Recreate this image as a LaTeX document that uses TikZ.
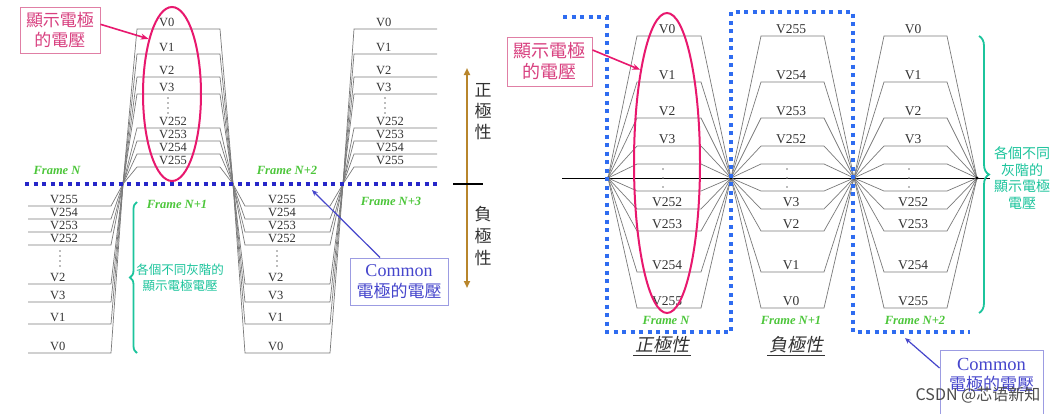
\documentclass[tikz,border=0pt]{standalone}
\usepackage{fontspec}
\setmainfont{Liberation Serif}
\newfontfamily\cjk{Noto Sans CJK TC}
\newfontfamily\cjksl[FakeSlant=0.2]{Noto Sans CJK TC}
\newfontfamily\cjksc{Noto Sans CJK SC}
\usetikzlibrary{shapes.geometric,decorations.pathreplacing,arrows.meta}
\definecolor{wavec}{HTML}{7A7A7A}
\definecolor{pinkc}{HTML}{E8186E}
\definecolor{pinkbox}{HTML}{E07FA5}
\definecolor{pinktext}{HTML}{D8407F}
\definecolor{darkblue}{HTML}{2626C8}
\definecolor{brightblue}{HTML}{2F6CF0}
\definecolor{tealc}{HTML}{1CC49C}
\definecolor{greenf}{HTML}{4CC63A}
\definecolor{commontext}{HTML}{4646CC}
\definecolor{commonbox}{HTML}{9C9CE2}
\definecolor{brownc}{HTML}{B8862C}
\definecolor{lblc}{HTML}{333333}
\tikzset{
  wavel/.style={draw=wavec, line width=0.7pt},
  lbls/.style={font=\fontsize{12.5}{14}\selectfont, inner sep=0pt, text=lblc},
  lblr/.style={font=\fontsize{13.5}{15}\selectfont, inner sep=0pt, text=lblc, anchor=base},
  framel/.style={text=greenf, font=\bfseries\itshape\fontsize{12.5}{14}\selectfont, inner sep=0pt},
  dotl/.style={line width=4pt, dash pattern=on 4pt off 4.5pt},
  pinkell/.style={draw=pinkc, line width=2pt, ellipse, inner sep=0pt},
  pinkbx/.style={draw=pinkbox, line width=1pt, align=center, text=pinktext, inner sep=0pt},
  pinkarrow/.style={draw=pinkc, line width=1.6pt, -{Stealth[length=8pt,width=6pt]}},
  commonbx/.style={draw=commonbox, line width=1pt, align=center, text=commontext, inner sep=0pt},
  commonarrow/.style={draw=commontext, line width=1.2pt, -{Stealth[length=6pt,width=5pt]}},
  brace/.style={draw=tealc, line width=1.8pt, decorate},
  tealtext/.style={text=tealc, align=center, inner sep=0pt},
  vdot/.style={fill=wavec, draw=none},
}
\begin{document}
\begin{tikzpicture}[x=1pt,y=-1pt]
\useasboundingbox (0,0) rectangle (1061,413);
\fill[white] (0,0) rectangle (1061,413);

% ===================== LEFT PANEL =====================
\foreach \y/\t in {29/V0,54/V1,77/V2,94/V3,128/V252,141/V253,154/V254,167/V255}{
  \draw[wavel] (123,184) -- (137,\y) -- (220,\y) -- (233,184);
  \draw[wavel] (343,184) -- (354,\y) -- (437,\y);
  \node[lbls, anchor=base west] (la\t) at (159,\y-2.5) {\t};
  \node[lbls, anchor=base west] (lb\t) at (376,\y-2.5) {\t};
}
\foreach \y/\t in {206/V255,219/V254,232/V253,245/V252,284/V2,302/V3,324/V1,353/V0}{
  \draw[wavel] (28,\y) -- (111,\y) -- (123,184);
  \draw[wavel] (233,184) -- (245,\y) -- (330,\y) -- (343,184);
  \node[lbls, anchor=base west] (lc\t) at (50,\y-2.5) {\t};
  \node[lbls, anchor=base west] (ld\t) at (268,\y-2.5) {\t};
}
\foreach \yy in {98,103,108,113}{
  \fill[vdot] (168,\yy) circle (0.9);
  \fill[vdot] (385,\yy) circle (0.9);
}
\foreach \yy in {251,256,261,266}{
  \fill[vdot] (60,\yy) circle (0.9);
  \fill[vdot] (277,\yy) circle (0.9);
}
\draw[dotl, darkblue] (25,184) -- (437,184);

\node[framel] (fl1) at (57,170) {Frame N};
\node[framel] (fl2) at (177,204) {Frame N+1};
\node[framel] (fl3) at (287,170) {Frame N+2};
\node[framel] (fl4) at (391,201) {Frame N+3};

\node[pinkell, minimum width=58pt, minimum height=174pt] (el1) at (172,94) {};
\node[pinkbx, minimum width=80pt, minimum height=46pt, font=\cjk\fontsize{17}{20}\selectfont] (pb1) at (60,30) {顯示電極\\的電壓};
\draw[pinkarrow] (pb1.8) -- (el1.113);

\draw[brace, decoration={brace, amplitude=7pt}] (137,353) -- (137,202);
\node[tealtext, font=\cjk\fontsize{12.5}{16}\selectfont] (tt1) at (180,278) {各個不同灰階的\\顯示電極電壓};

\draw[brownc, line width=2pt, {Triangle[length=7pt,width=6pt]}-{Triangle[length=7pt,width=6pt]}] (467,68) -- (467,288);
\draw[black, line width=1.8pt] (453,184) -- (483,184);
\node[align=center, text=lblc, inner sep=0pt, font=\cjk\fontsize{17}{21}\selectfont] (vp) at (483,112) {正\\極\\性};
\node[align=center, text=lblc, inner sep=0pt, font=\cjk\fontsize{17}{22}\selectfont] (vn) at (483,236) {負\\極\\性};

\node[commonbx, minimum width=98pt, minimum height=47pt, font=\fontsize{17}{21}\selectfont] (cb1) at (399,281.5) {{\fontsize{18}{21}\selectfont Common}\\{\cjk 電極的電壓}};
\coordinate (cp1) at (312,190);
\draw[commonarrow] ([xshift=-19pt]cb1.north) -- (cp1);

% ===================== RIGHT PANEL =====================
\draw[black, line width=0.6pt] (562,178) -- (990,178);
\foreach \y/\a/\b in {36/V0/V255, 82/V1/V254, 118/V2/V253, 146/V3/V252, 164//, 191//, 209/V252/V3, 231/V253/V2, 272/V254/V1, 308/V255/V0}{
  \draw[wavel] (608,178) -- (637,\y) -- (701,\y) -- (731,178);
  \draw[wavel] (731,178) -- (761,\y) -- (824,\y) -- (854,178);
  \draw[wavel] (854,178) -- (884,\y) -- (947,\y) -- (977,178);
  \node[lblr] (ra\y) at (667,\y-2.5) {\a};
  \node[lblr] (rb\y) at (791,\y-2.5) {\b};
  \node[lblr] (rc\y) at (913,\y-2.5) {\a};
}
\foreach \yy in {169,178,187}{
  \fill[vdot] (663,\yy) circle (0.9);
  \fill[vdot] (787,\yy) circle (0.9);
  \fill[vdot] (909,\yy) circle (0.9);
}
\foreach \xx in {608,731,854,977}{
  \fill[black] (\xx,178) circle (1.6);
}

\draw[dotl, brightblue] (563,17) -- (607,17) -- (607,332) -- (731,332) -- (731,12) -- (853,12) -- (853,332) -- (970,332);

\node[framel] (fr1) at (666,320) {Frame N};
\node[framel] (fr2) at (791,320) {Frame N+1};
\node[framel] (fr3) at (915,320) {Frame N+2};

\node[pinkell, minimum width=66pt, minimum height=300pt] (el2) at (667,163) {};
\node[pinkbx, minimum width=85pt, minimum height=49pt, font=\cjk\fontsize{18}{21}\selectfont] (pb2) at (549.5,61.5) {顯示電極\\的電壓};
\draw[pinkarrow] (pb2.15) -- (el2.106);

\draw[brace, decoration={brace, amplitude=10pt}] (979,36) -- (979,313);
\node[tealtext, font=\cjk\fontsize{14}{16.7}\selectfont] (tt2) at (1022,178) {各個不同\\灰階的\\顯示電極\\電壓};

\node[text=lblc, inner sep=1.5pt, font=\cjksl\fontsize{18}{20}\selectfont] (pol1) at (662,345) {正極性};
\draw[lblc, line width=0.8pt] (pol1.south west) -- (pol1.south east);
\node[text=lblc, inner sep=1.5pt, font=\cjksl\fontsize{18}{20}\selectfont] (pol2) at (796,345) {負極性};
\draw[lblc, line width=0.8pt] (pol2.south west) -- (pol2.south east);

\node[commonbx, minimum width=103pt, minimum height=75pt] (cb2) at (991.5,387.5) {};
\node[align=center, text=commontext, inner sep=0pt, font=\fontsize{17}{20}\selectfont] (ct2) at (991.5,375) {{\fontsize{18.5}{20}\selectfont Common}\\{\cjk 電極的電壓}};
\coordinate (cp2) at (905,338);
\draw[commonarrow] ([yshift=19.5pt]cb2.west) -- (cp2);

\node[text=black!70, inner sep=0pt, font=\cjksc\fontsize{16}{18}\selectfont] (wm) at (978,395) {CSDN @芯语新知};
\end{tikzpicture}
\end{document}
